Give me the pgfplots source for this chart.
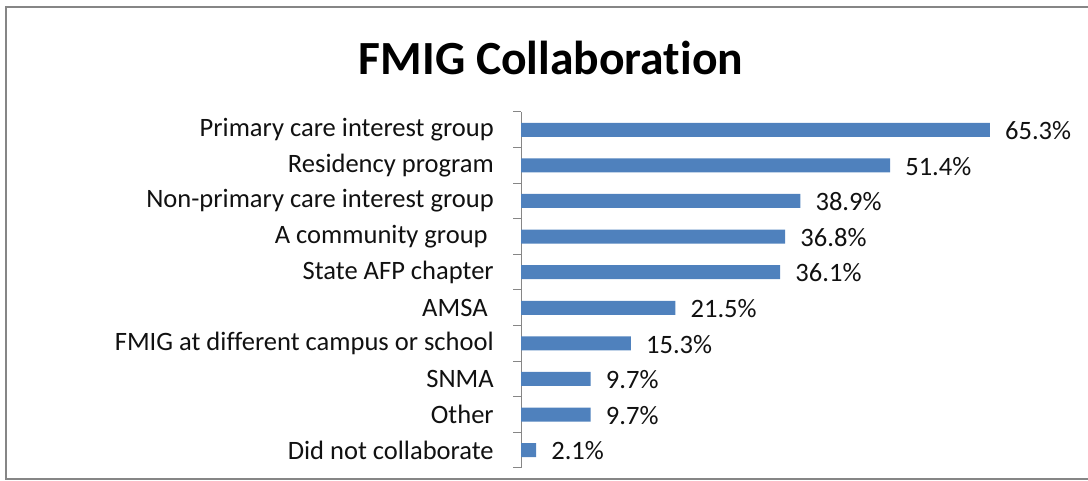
\documentclass[border=0pt]{standalone}
\usepackage{pgfplots}
\pgfplotsset{compat=1.18}
\usepackage{fontspec}
\setmainfont[Ligatures={NoCommon}]{Carlito}
\definecolor{barblue}{HTML}{4F81BD}
\definecolor{framegray}{HTML}{868686}
\definecolor{axgray}{HTML}{868686}
\definecolor{txt}{HTML}{111111}
\begin{document}
\begin{tikzpicture}[x=0.75pt,y=0.75pt]
\path[use as bounding box] (0,0) rectangle (1088,481);
\draw[framegray, line width=1.5pt] (6,2) rectangle (1110,474);
\node[anchor=base, font=\fontsize{35.7}{40}\selectfont\bfseries, text=black] at (551,406) {FMIG Collaboration};
\begin{axis}[
  at={(390.75pt,9.75pt)}, anchor=south west,
  scale only axis,
  width=376.95pt, height=267pt,
  xmin=0, xmax=70,
  ymin=-0.5, ymax=9.5,
  xbar, bar width=10.5pt,
  axis x line=none,
  axis y line*=left,
  axis line style={axgray, line width=0.75pt},
  ytick={0,1,2,3,4,5,6,7,8,9},
  yticklabels={Did not collaborate, Other, SNMA, FMIG at different campus or school, AMSA\kern0.23em, State AFP chapter, A community group\kern0.23em, Non-primary care interest group, Residency program, Primary care interest group},
  major tick length=0pt,
  tick align=outside,
  ytick pos=left,
  yticklabel style={font=\fontsize{19.9}{22}\selectfont, text=txt, inner sep=0pt, xshift=-20.25pt},
  extra y ticks={-0.5,0.5,1.5,2.5,3.5,4.5,5.5,6.5,7.5,8.5,9.5},
  extra y tick labels={},
  extra y tick style={major tick length=6pt, tick style={axgray, line width=0.75pt}},
  clip=false,
  point meta=x,
  nodes near coords={\pgfmathprintnumber[fixed,precision=1,fixed zerofill]{\pgfplotspointmeta}\%},
  nodes near coords style={font=\fontsize{19.9}{22}\selectfont, text=txt, anchor=west, inner sep=0pt, xshift=11.25pt, yshift=-0.5pt},
  /pgf/number format/assume math mode=true,
]
\addplot[fill=barblue, draw=none] coordinates {
(2.1,0) (9.7,1) (9.7,2) (15.3,3) (21.5,4) (36.1,5) (36.8,6) (38.9,7) (51.4,8) (65.3,9)
};
\end{axis}
\end{tikzpicture}
\end{document}
